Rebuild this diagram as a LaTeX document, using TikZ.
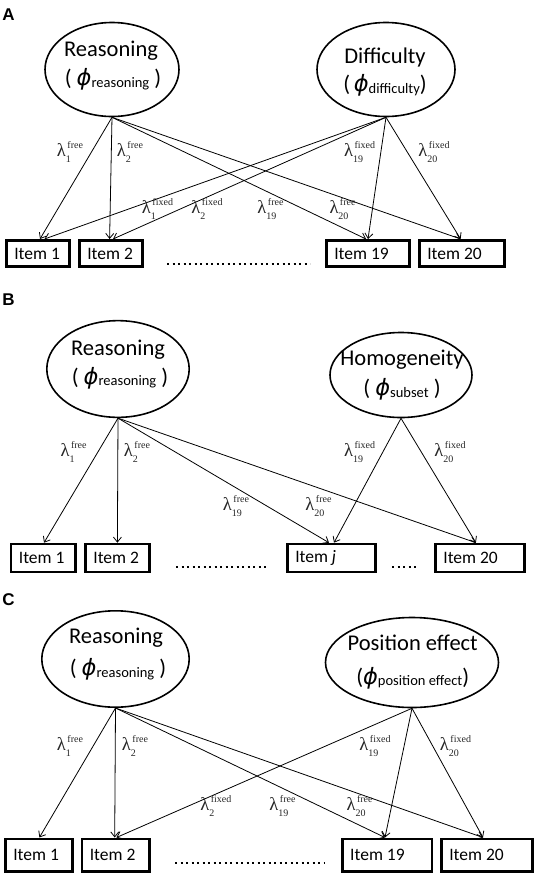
\documentclass[tikz,border=0pt]{standalone}
\usepackage{fontspec}
\setmainfont{Carlito}
\newfontfamily\lamserif{Liberation Serif}
\newfontfamily\panelsans{Liberation Sans}
\newfontfamily\phifont{DejaVu Sans}
\usetikzlibrary{arrows.meta,shapes.geometric}
\newcommand\lam[2]{\mbox{{\lamserif\fontsize{18.5}{18.5}\selectfont λ}{\lamserif\fontsize{10}{13.4}\selectfont\raisebox{0.8pt}{\begin{tabular}[c]{@{}l@{}}\hspace{1.5pt}#2\\#1\end{tabular}}}}}
\newcommand\phisub[1]{{\phifont\itshape ϕ}\raisebox{-1.5pt}{\fontsize{14.5}{14.5}\selectfont #1}}
\newcommand\itm[2]{\makebox[#1][l]{#2}}
\tikzset{
  lat/.style={ellipse, draw, line width=1.6pt, inner sep=0pt},
  lattext/.style={anchor=base, inner sep=0pt, font=\fontsize{22.5}{22.5}\selectfont},
  item/.style={draw, line width=2.6pt, inner xsep=8pt, inner ysep=0pt, font=\fontsize{17.5}{17.5}\selectfont},
  arr/.style={-{Straight Barb[length=5pt,width=8pt]}, line width=0.8pt},
  lbl/.style={inner sep=0pt, text=black!85},
  dotline/.style={line width=2pt, dash pattern=on 2pt off 3.5pt},
  panel/.style={inner sep=0pt, font=\panelsans\bfseries\fontsize{17}{17}\selectfont}
}
\begin{document}
\begin{tikzpicture}[x=1pt,y=-1pt]
\useasboundingbox (0,0) rectangle (536,873);

% ================= Panel A =================
\node[panel] (pA) at (8.6,15) {A};
\node[lat, minimum width=134pt, minimum height=94pt] (RA) at (112,69.5) {};
\node[lat, minimum width=138pt, minimum height=94pt] (DA) at (386,69.5) {};
\node[lattext] (RAt1) at (111,56.5) {Reasoning};
\node[lattext] (RAt2) at (113,85.5) {( \phisub{reasoning} )};
\node[lattext] (DAt1) at (385,63.5) {Difficulty};
\node[lattext] (DAt2) at (385,91.5) {(\,\phisub{difficulty})};

\node[item, minimum height=26.4pt] (A1) at (38,253.5) {\itm{47.4pt}{Item 1}};
\node[item, minimum height=26.4pt] (A2) at (111,253.5) {\itm{47.4pt}{Item 2}};
\node[item, minimum height=26.4pt] (A19) at (368,253.5) {\itm{67.4pt}{Item 19}};
\node[item, minimum height=26.4pt] (A20) at (462,253.5) {\itm{69.4pt}{Item 20}};
\draw[dotline] (167,264) -- (310,264);

\draw[arr] (RA.south) -- ([xshift=2pt]A1.north);
\draw[arr] (RA.south) -- ([xshift=-1.4pt]A2.north);
\draw[arr] (RA.south) -- ([xshift=-2pt]A19.north);
\draw[arr] (RA.south) -- ([xshift=-1.4pt]A20.north);
\draw[arr] (DA.south) -- ([xshift=6.5pt]A1.north);
\draw[arr] (DA.south) -- ([xshift=2pt]A2.north);
\draw[arr] (DA.south) -- ([xshift=0pt]A19.north);
\draw[arr] (DA.south) -- ([xshift=-1.4pt]A20.north);

\node[lbl] (lA1) at (70,153) {\lam{1}{free}};
\node[lbl] (lA2) at (130,153) {\lam{2}{free}};
\node[lbl] (lA3) at (359.6,153) {\lam{19}{fixed}};
\node[lbl] (lA4) at (434,153) {\lam{20}{fixed}};
\node[lbl] (lA5) at (157.5,210) {\lam{1}{fixed}};
\node[lbl] (lA6) at (207,210) {\lam{2}{fixed}};
\node[lbl] (lA7) at (270.5,210) {\lam{19}{free}};
\node[lbl] (lA8) at (342.5,210) {\lam{20}{free}};

% ================= Panel B =================
\node[panel] (pB) at (8.6,300) {B};
\node[lat, minimum width=142.4pt, minimum height=96.7pt] (RB) at (118,369) {};
\node[lat, minimum width=142pt, minimum height=85pt] (HB) at (401,375) {};
\node[lattext] (RBt1) at (118,355) {Reasoning};
\node[lattext] (RBt2) at (120,384.3) {( \phisub{reasoning} )};
\node[lattext] (HBt1) at (402,365) {Homogeneity};
\node[lattext] (HBt2) at (402,395.5) {( \phisub{subset} )};

\node[item, minimum height=28pt] (B1) at (43.3,558) {\itm{48.8pt}{Item 1}};
\node[item, minimum height=28pt] (B2) at (117.4,558) {\itm{48.1pt}{Item 2}};
\node[item, minimum height=28pt] (Bj) at (331.3,558) {\itm{72.1pt}{Item \textit{j}}};
\node[item, minimum height=28pt] (B20) at (479.9,558) {\itm{73.1pt}{Item 20}};
\draw[dotline] (176,567) -- (267,567);
\draw[dotline] (392,567) -- (418,567);

\draw[arr] (RB.south) -- ([xshift=0.7pt]B1.north);
\draw[arr] (RB.south) -- ([xshift=0pt]B2.north);
\draw[arr] (RB.south) -- ([xshift=-2.3pt]Bj.north);
\draw[arr] (RB.south) -- ([xshift=-4pt]B20.north);
\draw[arr] (HB.south) -- ([xshift=2.7pt]Bj.north);
\draw[arr] (HB.south) -- ([xshift=-4pt]B20.north);

\node[lbl] (lB1) at (73.6,453) {\lam{1}{free}};
\node[lbl] (lB2) at (137,453) {\lam{2}{free}};
\node[lbl] (lB3) at (359.6,453) {\lam{19}{fixed}};
\node[lbl] (lB4) at (450,453) {\lam{20}{fixed}};
\node[lbl] (lB5) at (236,506.7) {\lam{19}{free}};
\node[lbl] (lB6) at (318.5,506.7) {\lam{20}{free}};

% ================= Panel C =================
\node[panel] (pC) at (8.6,600) {C};
\node[lat, minimum width=147.4pt, minimum height=96.4pt] (RC) at (115.5,659) {};
\node[lat, minimum width=173pt, minimum height=90pt] (PC) at (412,662.5) {};
\node[lattext] (RCt1) at (116,643.3) {Reasoning};
\node[lattext] (RCt2) at (118,675.5) {( \phisub{reasoning} )};
\node[lattext] (PCt1) at (412.7,650.7) {Position effect};
\node[lattext] (PCt2) at (412.7,684) {(\phisub{position effect})};

\node[item, minimum height=32.4pt] (C1) at (38.8,855) {\itm{51pt}{Item 1}};
\node[item, minimum height=32.4pt] (C2) at (115.6,855) {\itm{51.6pt}{Item 2}};
\node[item, minimum height=32.4pt] (C19) at (387,855) {\itm{73.6pt}{Item 19}};
\node[item, minimum height=32.4pt] (C20) at (487,855) {\itm{75.4pt}{Item 20}};
\draw[dotline] (175,863) -- (325,863);

\draw[arr] (RC.south) -- ([xshift=0.6pt]C1.north);
\draw[arr] (RC.south) -- ([xshift=-0.9pt]C2.north);
\draw[arr] (RC.south) -- ([xshift=-2pt]C19.north);
\draw[arr] (RC.south) -- ([xshift=-4pt]C20.north);
\draw[arr] (PC.south) -- ([xshift=0.8pt]C2.north);
\draw[arr] (PC.south) -- ([xshift=-2pt]C19.north);
\draw[arr] (PC.south) -- ([xshift=-4pt]C20.north);

\node[lbl] (lC1) at (70,746.7) {\lam{1}{free}};
\node[lbl] (lC2) at (135,746.7) {\lam{2}{free}};
\node[lbl] (lC3) at (375,746.7) {\lam{19}{fixed}};
\node[lbl] (lC4) at (455.5,746.7) {\lam{20}{fixed}};
\node[lbl] (lC5) at (215.8,806.7) {\lam{2}{fixed}};
\node[lbl] (lC6) at (282.5,806.7) {\lam{19}{free}};
\node[lbl] (lC7) at (359.6,806.7) {\lam{20}{free}};
\end{tikzpicture}
\end{document}
